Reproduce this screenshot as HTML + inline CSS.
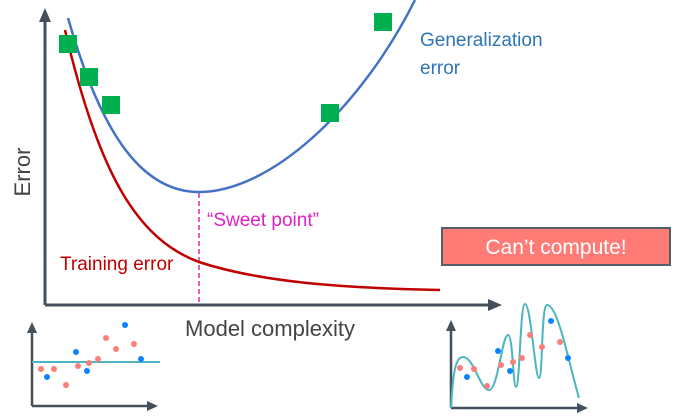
<!DOCTYPE html>
<html><head><meta charset="utf-8"><style>
html,body{margin:0;padding:0;background:#fff;}
svg{display:block;font-family:"Liberation Sans",sans-serif;}
</style></head><body>
<svg id="c" width="678" height="420" viewBox="0 0 678 420">
<defs><marker id="ah" markerUnits="userSpaceOnUse" markerWidth="14" markerHeight="12" refX="4" refY="6" orient="auto"><path d="M0,0 L14,6 L0,12 Z" fill="#44505c"/></marker>
<marker id="ahs" markerUnits="userSpaceOnUse" markerWidth="11" markerHeight="10" refX="3" refY="5" orient="auto"><path d="M0,0 L11,5 L0,10 Z" fill="#44505c"/></marker></defs>
<g>
<line x1="45" y1="305" x2="45" y2="18" stroke="#44505c" stroke-width="3" marker-end="url(#ah)"/>
<line x1="45" y1="305" x2="492" y2="305" stroke="#44505c" stroke-width="3" marker-end="url(#ah)"/>
</g>
<text x="30" y="172" font-size="22" fill="#444" transform="rotate(-90 30 172)" text-anchor="middle">Error</text>
<text x="270" y="336" font-size="22" fill="#444" text-anchor="middle">Model complexity</text>
<line x1="199" y1="193" x2="199" y2="305" stroke="#e020c0" stroke-width="1.5" stroke-dasharray="5,3"/>
<path d="M65,30 C100,180 140,240 199,262 C260,282 340,288 440,290" fill="none" stroke="#c00000" stroke-width="2.5"/>
<path d="M68,18 C100,130 140,192 199,192 C270,192 360,110 415,0" fill="none" stroke="#4472c4" stroke-width="2.5"/>
<g id="sq"></g>
<text x="420" y="46" font-size="19" fill="#2e75b6">Generalization</text>
<text x="420" y="74" font-size="19" fill="#2e75b6">error</text>
<text x="60" y="270" font-size="19" fill="#c00000">Training error</text>
<text x="207" y="226" font-size="19" fill="#e020c0">“Sweet point”</text>
<g>
<rect x="442" y="228" width="228" height="37" fill="#ff7b76" stroke="#555f6a" stroke-width="2"/>
<text x="556" y="254" font-size="21" fill="#fff" text-anchor="middle">Can’t compute!</text>
</g>
<g>
<line x1="32" y1="406" x2="32" y2="330" stroke="#44505c" stroke-width="2.5" marker-end="url(#ahs)"/>
<line x1="32" y1="406" x2="150" y2="406" stroke="#44505c" stroke-width="2.5" marker-end="url(#ahs)"/>
<line x1="32" y1="362" x2="160" y2="362" stroke="#4bb5c1" stroke-width="2"/>
<g id="d1"></g>
</g>
<g>
<line x1="451" y1="408" x2="451" y2="328" stroke="#44505c" stroke-width="2.5" marker-end="url(#ahs)"/>
<line x1="451" y1="408" x2="580" y2="408" stroke="#44505c" stroke-width="2.5" marker-end="url(#ahs)"/>
<path d="M451,408 C453,370 456,357 463,357 C474,357 480,390 489,390 C498,390 502,335 508,335 C513,335 513,387 516,387 C520,387 520,304 525,304 C531,304 535,378 539,378 C543,378 541,305 547,305 C558,305 568,360 579,398" fill="none" stroke="#4bb5c1" stroke-width="2"/>
<g id="d2"></g>
</g>
</svg>
<script>
const sqX=[68,89,111,330,383];
const sqY=[44,77,105,113,22];
const redX1=[41,54,66,78,89,98,106,116,134];
const redY1=[369,369,385,366,363,359,338,349,344];
const blueX1=[47,76,87,125,141];
const blueY1=[377,352,371,325,359];
const redX2=[460,474,487,501,513,522,530,542,560];
const redY2=[368,369,386,365,362,358,335,347,342];
const blueX2=[467,498,510,551,568];
const blueY2=[377,351,371,321,358];
const NS="http://www.w3.org/2000/svg";
const sq=document.getElementById('sq');
for(let i=0;i<sqX.length;i++){const r=document.createElementNS(NS,'rect');
r.setAttribute('x',sqX[i]-9);r.setAttribute('y',sqY[i]-9);r.setAttribute('width',18);r.setAttribute('height',18);r.setAttribute('fill','#00b050');


sq.appendChild(r);}
function dots(g,xs,ys,col,nm){for(let i=0;i<xs.length;i++){const c=document.createElementNS(NS,'circle');
c.setAttribute('cx',xs[i]);c.setAttribute('cy',ys[i]);c.setAttribute('r',3);c.setAttribute('fill',col);


g.appendChild(c);}}
const d1=document.getElementById('d1'),d2=document.getElementById('d2');
dots(d1,redX1,redY1,'#fa7f7a','train-dot');dots(d1,blueX1,blueY1,'#0a84ff','test-dot');
dots(d2,redX2,redY2,'#fa7f7a','train-dot');dots(d2,blueX2,blueY2,'#0a84ff','test-dot');
</script>
</body></html>
